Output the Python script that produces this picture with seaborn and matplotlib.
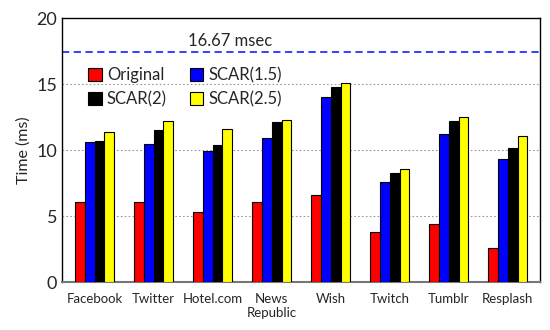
import pandas as pd
import matplotlib.pyplot as plt
import seaborn as sns

apps = ["Facebook", "Twitter", "Hotel.com", "News\nRepublic", "Wish", "Twitch", "Tumblr", "Resplash"]
original = [6.1, 6.1, 5.3, 6.1, 6.6, 3.8, 4.4, 2.6]
scar_15 = [10.6, 10.5, 9.9, 10.9, 14.0, 7.6, 11.2, 9.3]
scar_2 = [10.7, 11.5, 10.4, 12.1, 14.8, 8.3, 12.2, 10.2]
scar_25 = [11.4, 12.2, 11.6, 12.3, 15.1, 8.6, 12.5, 11.1]
series = {"Original": original, "SCAR(1.5)": scar_15, "SCAR(2)": scar_2, "SCAR(2.5)": scar_25}
deadline_y = 17.4
deadline_label = "16.67 msec"

rows = []
for name, vals in series.items():
    for app, v in zip(apps, vals):
        rows.append({"App": app, "Config": name, "Time": v})
df = pd.DataFrame(rows)

sns.set_style("white")
plt.rcParams["font.family"] = ["Lato", "DejaVu Sans"]

fig = plt.figure(figsize=(5.5, 3.3), dpi=100)
ax = fig.add_axes([0.113, 0.145, 0.869, 0.800])

palette = {"Original": "#ff0000", "SCAR(1.5)": "#0000ff", "SCAR(2)": "#000000", "SCAR(2.5)": "#ffff00"}
sns.barplot(data=df, x="App", y="Time", hue="Config", palette=palette, width=0.67,
            edgecolor="black", linewidth=0.8, saturation=1, ax=ax, zorder=3)

for y in [5, 10, 15]:
    ax.axhline(y, color="#999999", linestyle=(0, (1.5, 2)), linewidth=0.8, zorder=1)
ax.axhline(deadline_y, color="#2233ff", linestyle=(0, (4, 2.5)), linewidth=1.3, zorder=2)
ax.text(2.3, deadline_y + 0.25, deadline_label, ha="center", va="bottom", fontsize=12)

ax.set_ylim(0, 20)
ax.set_xlim(-0.55, 7.55)
ax.set_yticks([0, 5, 10, 15, 20])
ax.set_xlabel("")
ax.set_ylabel("Time (ms)", fontsize=11.5)
ax.tick_params(axis="y", labelsize=13, length=0)
ax.tick_params(axis="x", labelsize=9.5, length=0, pad=8)
for s in ax.spines.values():
    s.set_color("black")
    s.set_linewidth(1.0)
ax.spines["bottom"].set_color("#777777")
ax.spines["bottom"].set_linewidth(1.5)

handles, labels = ax.get_legend_handles_labels()
order = [0, 2, 1, 3]
ax.legend([handles[i] for i in order], [labels[i] for i in order], ncol=2, loc="upper left",
          bbox_to_anchor=(0.055, 0.815), frameon=False, fontsize=12, borderaxespad=0, borderpad=0,
          handlelength=0.8, handleheight=0.8, handletextpad=0.3, columnspacing=1.4, labelspacing=0.5)

fig.savefig("out.png", dpi=100)
